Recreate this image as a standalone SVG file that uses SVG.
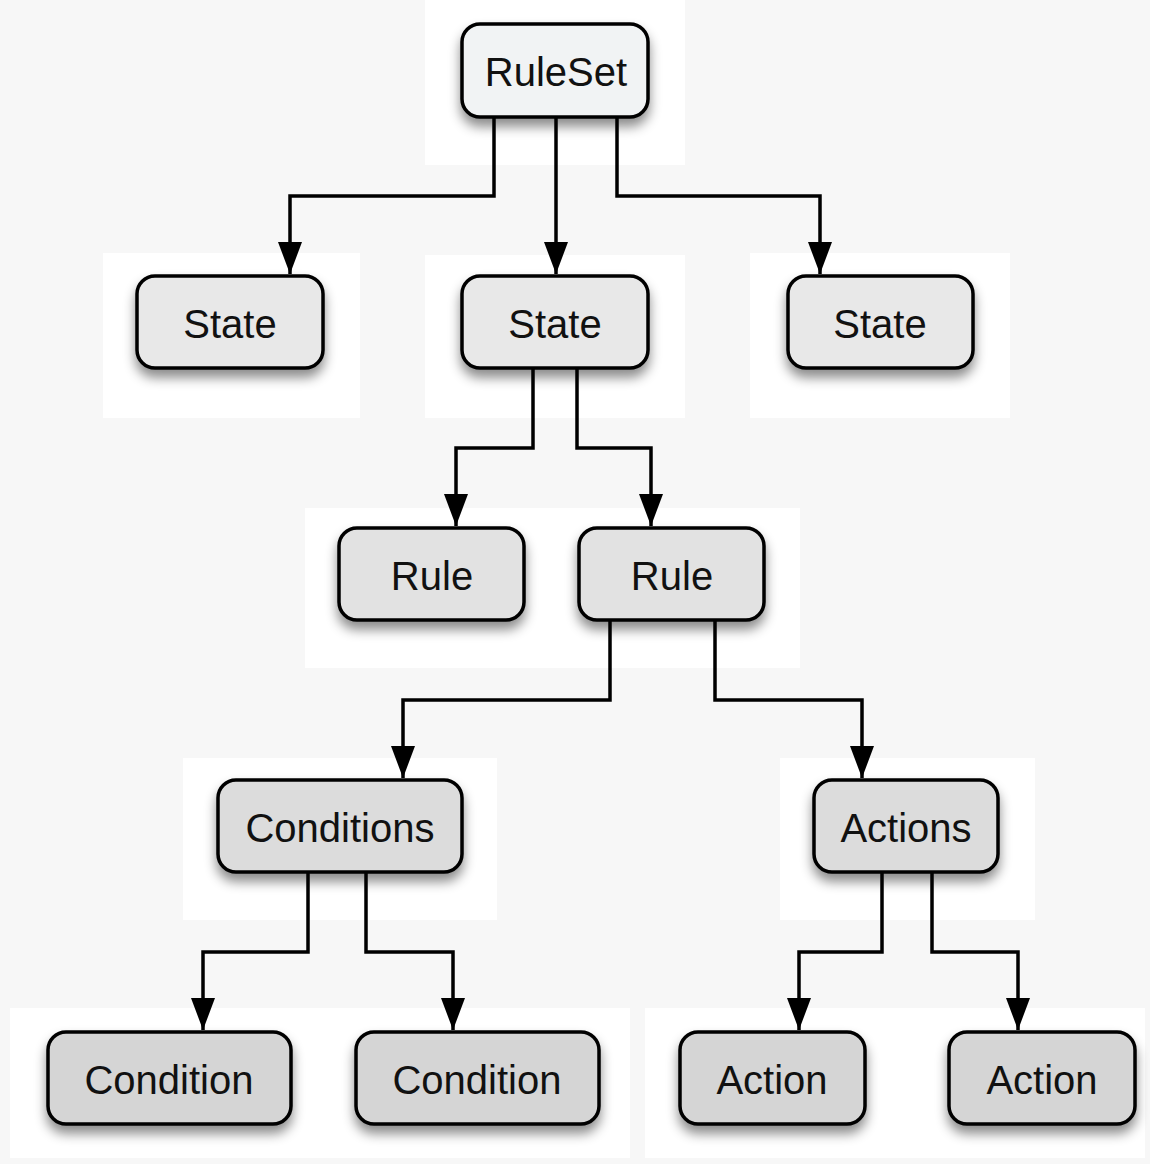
<svg xmlns="http://www.w3.org/2000/svg" width="1150" height="1164" viewBox="0 0 1150 1164">
  <defs>
    <filter id="sh" x="-20%" y="-20%" width="140%" height="160%">
      <feDropShadow dx="0" dy="8" stdDeviation="6" flood-color="#000" flood-opacity="0.45"/>
    </filter>
    <marker id="arr" viewBox="0 0 32 24" refX="32" refY="12" markerWidth="32" markerHeight="24" markerUnits="userSpaceOnUse" orient="auto">
      <path d="M0,0 L32,12 L0,24 Z" fill="#000"/>
    </marker>
  </defs>
  <style>
    .box { stroke: #000; stroke-width: 3.5; }
    .lbl { font-family: "Liberation Sans", Arial, sans-serif; font-size: 40px; fill: #111; text-anchor: middle; }
    .con { fill: none; stroke: #000; stroke-width: 3.5; }
    .bg { fill: #ffffff; }
  </style>
  <rect width="1150" height="1164" fill="#f7f7f7"/>
  <g id="background">
    <rect class="bg" x="425" y="0" width="260" height="165"/>
    <rect class="bg" x="103" y="253" width="257" height="165"/>
    <rect class="bg" x="425" y="255" width="260" height="163"/>
    <rect class="bg" x="750" y="253" width="260" height="165"/>
    <rect class="bg" x="305" y="508" width="495" height="160"/>
    <rect class="bg" x="183" y="758" width="314" height="162"/>
    <rect class="bg" x="780" y="758" width="255" height="162"/>
    <rect class="bg" x="10" y="1008" width="620" height="150"/>
    <rect class="bg" x="645" y="1008" width="500" height="150"/>
  </g>
  <g id="connectors">
    <path class="con" d="M494,117 V196 H290 V274" marker-end="url(#arr)"/>
    <path class="con" d="M556,117 V274" marker-end="url(#arr)"/>
    <path class="con" d="M617,117 V196 H820 V274" marker-end="url(#arr)"/>
    <path class="con" d="M533,368 V448 H456 V526" marker-end="url(#arr)"/>
    <path class="con" d="M577,368 V448 H651 V526" marker-end="url(#arr)"/>
    <path class="con" d="M610,620 V700 H403 V778" marker-end="url(#arr)"/>
    <path class="con" d="M715,620 V700 H862 V778" marker-end="url(#arr)"/>
    <path class="con" d="M308,872 V952 H203 V1030" marker-end="url(#arr)"/>
    <path class="con" d="M366,872 V952 H453 V1030" marker-end="url(#arr)"/>
    <path class="con" d="M882,872 V952 H799 V1030" marker-end="url(#arr)"/>
    <path class="con" d="M932,872 V952 H1018 V1030" marker-end="url(#arr)"/>
  </g>
  <g id="ruleset">
    <rect class="box" x="462" y="24" width="186" height="93" rx="18" fill="#f1f3f4" filter="url(#sh)"/>
    <text class="lbl" x="556" y="86">RuleSet</text>
  </g>
  <g id="state1">
    <rect class="box" x="137" y="276" width="186" height="92" rx="18" fill="#e8e8e8" filter="url(#sh)"/>
    <text class="lbl" x="230" y="338">State</text>
  </g>
  <g id="state2">
    <rect class="box" x="462" y="276" width="186" height="92" rx="18" fill="#e8e8e8" filter="url(#sh)"/>
    <text class="lbl" x="555" y="338">State</text>
  </g>
  <g id="state3">
    <rect class="box" x="788" y="276" width="185" height="92" rx="18" fill="#e8e8e8" filter="url(#sh)"/>
    <text class="lbl" x="880" y="338">State</text>
  </g>
  <g id="rule1">
    <rect class="box" x="339" y="528" width="185" height="92" rx="18" fill="#e2e2e2" filter="url(#sh)"/>
    <text class="lbl" x="432" y="590">Rule</text>
  </g>
  <g id="rule2">
    <rect class="box" x="579" y="528" width="185" height="92" rx="18" fill="#e2e2e2" filter="url(#sh)"/>
    <text class="lbl" x="672" y="590">Rule</text>
  </g>
  <g id="conditions">
    <rect class="box" x="218" y="780" width="244" height="92" rx="18" fill="#dcdcdc" filter="url(#sh)"/>
    <text class="lbl" x="340" y="842">Conditions</text>
  </g>
  <g id="actions">
    <rect class="box" x="814" y="780" width="184" height="92" rx="18" fill="#dcdcdc" filter="url(#sh)"/>
    <text class="lbl" x="906" y="842">Actions</text>
  </g>
  <g id="condition1">
    <rect class="box" x="48" y="1032" width="243" height="92" rx="18" fill="#d5d5d5" filter="url(#sh)"/>
    <text class="lbl" x="169" y="1094">Condition</text>
  </g>
  <g id="condition2">
    <rect class="box" x="356" y="1032" width="243" height="92" rx="18" fill="#d5d5d5" filter="url(#sh)"/>
    <text class="lbl" x="477" y="1094">Condition</text>
  </g>
  <g id="action1">
    <rect class="box" x="680" y="1032" width="185" height="92" rx="18" fill="#d5d5d5" filter="url(#sh)"/>
    <text class="lbl" x="772" y="1094">Action</text>
  </g>
  <g id="action2">
    <rect class="box" x="949" y="1032" width="186" height="92" rx="18" fill="#d5d5d5" filter="url(#sh)"/>
    <text class="lbl" x="1042" y="1094">Action</text>
  </g>
</svg>
